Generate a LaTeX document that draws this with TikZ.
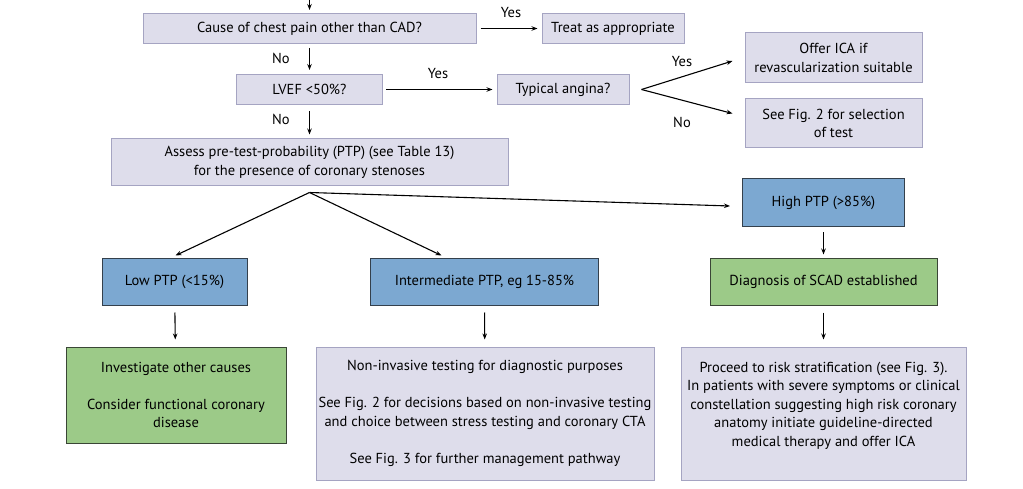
\documentclass[tikz,border=0pt]{standalone}
\usepackage{fontspec}
\setmainfont{PT Sans}
\usetikzlibrary{arrows.meta}
\definecolor{lavfill}{HTML}{DEDDEB}
\definecolor{lavdraw}{HTML}{A5A4C2}
\definecolor{bluefill}{HTML}{7CA8D1}
\definecolor{bluedraw}{HTML}{34404C}
\definecolor{greenfill}{HTML}{9CCA88}
\definecolor{greendraw}{HTML}{3A4636}
\begin{document}
\begin{tikzpicture}[x=1pt,y=-1pt,
  font=\fontsize{14.5}{18.5}\selectfont,
  box/.style={line width=1pt, align=center, inner sep=0pt},
  lav/.style={box, fill=lavfill, draw=lavdraw},
  blue/.style={box, fill=bluefill, draw=bluedraw},
  green/.style={box, fill=greenfill, draw=greendraw},
  lbl/.style={inner sep=0pt},
  arr/.style={-{Stealth[length=6pt,width=4.5pt]}, line width=1.1pt}]
\useasboundingbox[fill=white] (0,0) rectangle (1023,489);

% top row
\node[lav, minimum width=333pt, minimum height=30pt] (b1) at (309.5,28.5) {Cause of chest pain other than CAD?};
\node[lav, minimum width=142pt, minimum height=30pt] (treat) at (613,28.5) {Treat as appropriate};
\node[lav, minimum width=146pt, minimum height=30pt] (lvef) at (309.5,89.5) {LVEF <50\%?};
\node[lav, minimum width=132pt, minimum height=30pt] (typ) at (563,89.5) {Typical angina?};
\node[lav, minimum width=177pt, minimum height=50pt] (offer) at (833.5,58) {Offer ICA if\\revascularization suitable};
\node[lav, minimum width=177pt, minimum height=49pt] (fig2) at (833.5,123.5) {See Fig. 2 for selection\\of test};
\node[lav, minimum width=397pt, minimum height=47pt] (assess) at (309.5,162.5) {Assess pre-test-probability (PTP) (see Table 13)\\for the presence of coronary stenoses};

% PTP row
\node[blue, minimum width=162pt, minimum height=48pt] (high) at (823.5,203) {High PTP (>85\%)};
\node[blue, minimum width=145pt, minimum height=46pt] (low) at (174.5,282) {Low PTP (<15\%)};
\node[blue, minimum width=228pt, minimum height=46pt] (inter) at (484.5,282) {Intermediate PTP, eg 15-85\%};
\node[green, minimum width=227pt, minimum height=46pt] (diag) at (823.5,282) {Diagnosis of SCAD established};

% bottom row
\node[green, minimum width=220pt, minimum height=96pt] (inv) at (176,395) {Investigate other causes\\[18.5pt]Consider functional coronary\\disease};
\node[lav, minimum width=338pt, minimum height=133pt] (non) at (485,413.5) {Non-invasive testing for diagnostic purposes\\[18.5pt]See Fig. 2 for decisions based on non-invasive testing\\and choice between stress testing and coronary CTA\\[18.5pt]See Fig. 3 for further management pathway};
\node[lav, minimum width=285pt, minimum height=133pt] (proc) at (823.5,413.5) {Proceed to risk stratification (see Fig. 3).\\In patients with severe symptoms or clinical\\constellation suggesting high risk coronary\\anatomy initiate guideline-directed\\medical therapy and offer ICA\\\mbox{}};

% labels
\node[lbl] (y1) at (511,13) {Yes};
\node[lbl] (n1) at (281,58) {No};
\node[lbl] (y2) at (438,74) {Yes};
\node[lbl] (n2) at (281,119) {No};
\node[lbl] (y3) at (682,62) {Yes};
\node[lbl] (n3) at (682,122) {No};

% connectors
\coordinate (top) at (309.5,0);
\draw[arr] (top) -- ([yshift=3pt]b1.north);
\draw[arr, shorten <=4pt, shorten >=4pt] (b1) -- (treat);
\draw[arr, shorten <=4pt, shorten >=4pt] (b1) -- (lvef);
\draw[arr, shorten <=3pt, shorten >=4pt] (lvef) -- (typ);
\coordinate (fork) at ([xshift=12pt]typ.east);
\draw[arr] (fork) -- ([xshift=-12pt,yshift=-3pt]offer.west);
\draw[arr] (fork) -- ([xshift=-12pt,yshift=10pt]fig2.west);
\draw[arr, shorten <=6pt, shorten >=4pt] (lvef) -- (assess);
\coordinate (split) at ([yshift=-6pt]assess.south);
\draw[arr] (split) -- ([xshift=1pt,yshift=3pt]low.north);
\draw[arr] (split) -- ([xshift=-43pt,yshift=3pt]inter.north);
\draw[arr] (split) -- ([xshift=-12pt,yshift=-3pt]high.west);
\draw[arr, shorten <=5pt, shorten >=4pt] (high) -- (diag);
\draw[arr, shorten <=7pt, shorten >=7pt] (low) -- (inv);
\draw[arr, shorten <=7pt, shorten >=7pt] (inter) -- (non);
\draw[arr, shorten <=7pt, shorten >=7pt] (diag) -- (proc);
\end{tikzpicture}
\end{document}
